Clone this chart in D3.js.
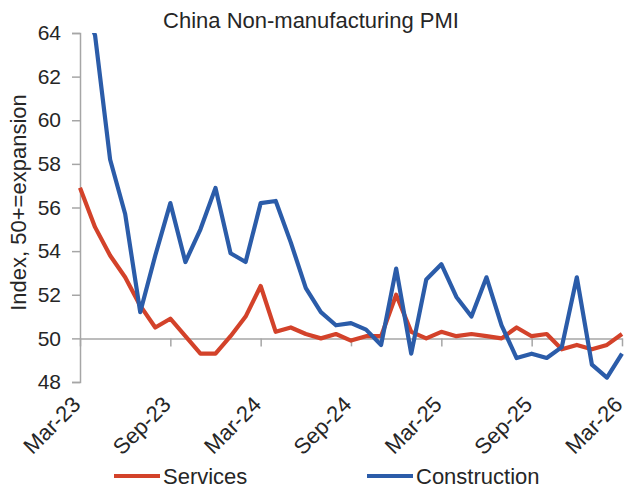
<!DOCTYPE html>
<html>
<head>
<meta charset="utf-8">
<script src="https://cdn.jsdelivr.net/npm/d3@7"></script>
<style>
  html, body { margin: 0; padding: 0; background: #fff; }
  svg { display: block; font-family: "Liberation Sans", Arial, sans-serif; }
</style>
</head>
<body>
<svg id="chart" width="628" height="488"></svg>
<script>
const months = ["Mar-23","Apr-23","May-23","Jun-23","Jul-23","Aug-23","Sep-23","Oct-23","Nov-23","Dec-23",
  "Jan-24","Feb-24","Mar-24","Apr-24","May-24","Jun-24","Jul-24","Aug-24","Sep-24","Oct-24","Nov-24","Dec-24",
  "Jan-25","Feb-25","Mar-25","Apr-25","May-25","Jun-25","Jul-25","Aug-25","Sep-25","Oct-25","Nov-25","Dec-25",
  "Jan-26","Feb-26","Mar-26"];
const services = [56.9,55.1,53.8,52.8,51.5,50.5,50.9,50.1,49.3,49.3,
  50.1,51.0,52.4,50.3,50.5,50.2,50.0,50.2,49.9,50.1,50.1,52.0,
  50.3,50.0,50.3,50.1,50.2,50.1,50.0,50.5,50.1,50.2,49.5,49.7,
  49.5,49.7,50.2];
const construction = [65.6,63.9,58.2,55.7,51.2,53.8,56.2,53.5,55.0,56.9,
  53.9,53.5,56.2,56.3,54.4,52.3,51.2,50.6,50.7,50.4,49.7,53.2,
  49.3,52.7,53.4,51.9,51.0,52.8,50.6,49.1,49.3,49.1,49.6,52.8,
  48.8,48.2,49.3];
const xTickLabels = ["Mar-23","Sep-23","Mar-24","Sep-24","Mar-25","Sep-25","Mar-26"];
const yTicks = [48,50,52,54,56,58,60,62,64];
const seriesNames = ["Services","Construction"];
const colors = ["#d3422a","#2b5ca9"];

const svg = d3.select("#chart");
const x = d3.scaleLinear().domain([0, months.length - 1]).range([80, 622]);
const y = d3.scaleLinear().domain([48, 64]).range([382, 33]);
const axisColor = "#a6a6a6";
const fs = 22;
const textColor = "#262626";

svg.append("defs").append("clipPath").attr("id","plot")
  .append("rect").attr("x", 78).attr("y", y(64)).attr("width", 560).attr("height", y(48) - y(64) + 4);

// Y axis
const yAxis = svg.append("g").attr("transform", `translate(${x(0)},0)`)
  .call(d3.axisLeft(y).tickValues(yTicks).tickSize(8).tickPadding(11).tickFormat(d3.format("d")));
yAxis.select(".domain").attr("stroke", axisColor).attr("stroke-width", 1.5);
yAxis.selectAll(".tick line").attr("stroke", axisColor).attr("stroke-width", 1.5);
yAxis.selectAll(".tick text").attr("font-size", fs - 1).attr("fill", textColor).attr("font-family", "Liberation Sans, Arial, sans-serif");

// X axis at y=50
const xTickIdx = xTickLabels.map(l => months.indexOf(l));
const xAxis = svg.append("g").attr("transform", `translate(0,${y(50)})`)
  .call(d3.axisBottom(x).tickValues(xTickIdx).tickSize(8).tickSizeOuter(0).tickFormat(() => ""));
xAxis.select(".domain").attr("stroke", axisColor).attr("stroke-width", 1.5);
xAxis.selectAll(".tick line").attr("stroke", axisColor).attr("stroke-width", 1.5);

// X labels at bottom, rotated
svg.append("g").selectAll("text").data(xTickIdx).join("text")
  .attr("transform", d => `translate(${x(d) - 9},${y(48) + 13}) rotate(-45)`)
  .attr("text-anchor", "end")
  .attr("dy", "0.7em")
  .attr("font-size", fs).attr("fill", textColor)
  .text(d => months[d]);

// Lines
const line = d3.line().x((d, i) => x(i)).y(d => y(d));
const g = svg.append("g").attr("clip-path", "url(#plot)");
[services, construction].forEach((s, k) => {
  g.append("path").datum(s).attr("d", line)
    .attr("fill", "none").attr("stroke", colors[k]).attr("stroke-width", 4.2)
    .attr("stroke-linejoin", "round").attr("stroke-linecap", "butt");
});

// Title
svg.append("text").attr("x", 311).attr("y", 28).attr("text-anchor", "middle")
  .attr("font-size", fs).attr("fill", textColor).text("China Non-manufacturing PMI");

// Y label
svg.append("text").attr("transform", `translate(26,${(y(64) + y(48)) / 2 - 5}) rotate(-90)`)
  .attr("text-anchor", "middle").attr("font-size", fs).attr("fill", textColor)
  .text("Index, 50+=expansion");

// Legend
const legendX = [114, 367];
const legendY = 476;
seriesNames.forEach((n, k) => {
  svg.append("line").attr("x1", legendX[k]).attr("x2", legendX[k] + 46)
    .attr("y1", legendY).attr("y2", legendY).attr("stroke", colors[k]).attr("stroke-width", 4.2);
  svg.append("text").attr("x", legendX[k] + 49).attr("y", legendY).attr("dy", "0.35em")
    .attr("font-size", fs).attr("fill", textColor).text(n);
});
</script>
</body>
</html>
